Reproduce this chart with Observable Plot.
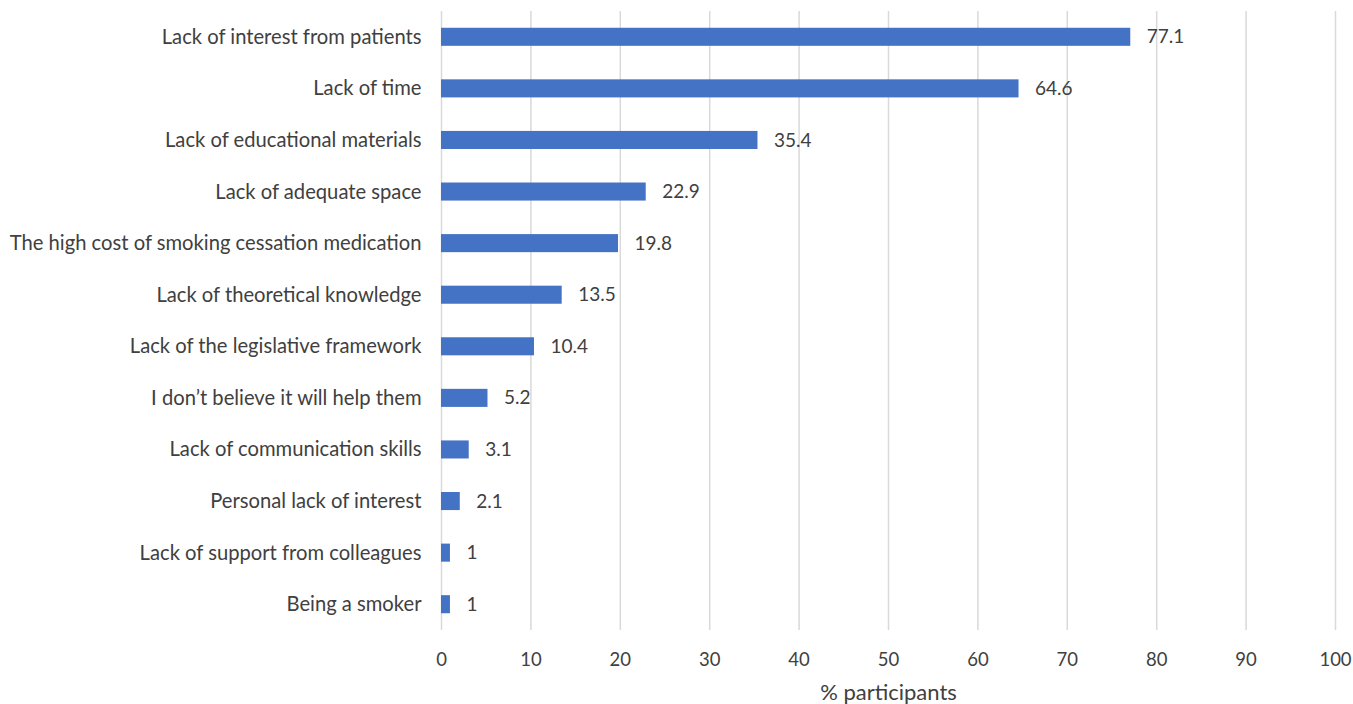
<!DOCTYPE html>
<html>
<head>
<meta charset="utf-8">
<script src="https://cdn.jsdelivr.net/npm/d3@7"></script>
<script src="https://cdn.jsdelivr.net/npm/@observablehq/plot@0.6"></script>
<style>
  html, body { margin: 0; padding: 0; background: #fff; }
  svg { display: block; }
</style>
</head>
<body>
<div id="chart"></div>
<script>
const categories = [
  "Lack of interest from patients",
  "Lack of time",
  "Lack of educational materials",
  "Lack of adequate space",
  "The high cost of smoking cessation medication",
  "Lack of theoretical knowledge",
  "Lack of the legislative framework",
  "I don\u2019t believe it will help them",
  "Lack of communication skills",
  "Personal lack of interest",
  "Lack of support from colleagues",
  "Being a smoker"
];
const values = [77.1, 64.6, 35.4, 22.9, 19.8, 13.5, 10.4, 5.2, 3.1, 2.1, 1, 1];
const xTicks = [0, 10, 20, 30, 40, 50, 60, 70, 80, 90, 100];
const xLabel = "% participants";

const data = categories.map((c, i) => ({category: c, value: values[i]}));

const chart = Plot.plot({
  width: 1353,
  height: 704,
  marginLeft: 441,
  marginRight: 18,
  marginTop: 11,
  marginBottom: 74,
  style: {fontFamily: "Lato, 'Open Sans', sans-serif", fontSize: "18px", color: "#404040", background: "#fff"},
  x: {domain: [0, 100], ticks: xTicks, label: null},
  y: {domain: categories, label: null, paddingInner: 0.65, paddingOuter: 0.325, round: false},
  marks: [
    Plot.gridX(xTicks, {stroke: "#d9d9d9", strokeOpacity: 1, strokeWidth: 1.5}),
    Plot.barX(data, {y: "category", x: "value", fill: "#4472C4"}),
    Plot.text(data, {y: "category", x: "value", text: d => String(d.value), textAnchor: "start", dx: 16, fill: "#404040", fontSize: 19}),
    Plot.axisY({tickSize: 0, tickPadding: 20, fontSize: 20.2, fill: "#404040"}),
    Plot.axisX({ticks: xTicks, tickSize: 0, tickPadding: 22, fontSize: 18.5, fill: "#404040", label: null}),
    Plot.text([xLabel], {frameAnchor: "bottom", dy: 69, fontSize: 22, fill: "#404040", text: d => d})
  ]
});
document.getElementById("chart").appendChild(chart);
</script>
</body>
</html>
